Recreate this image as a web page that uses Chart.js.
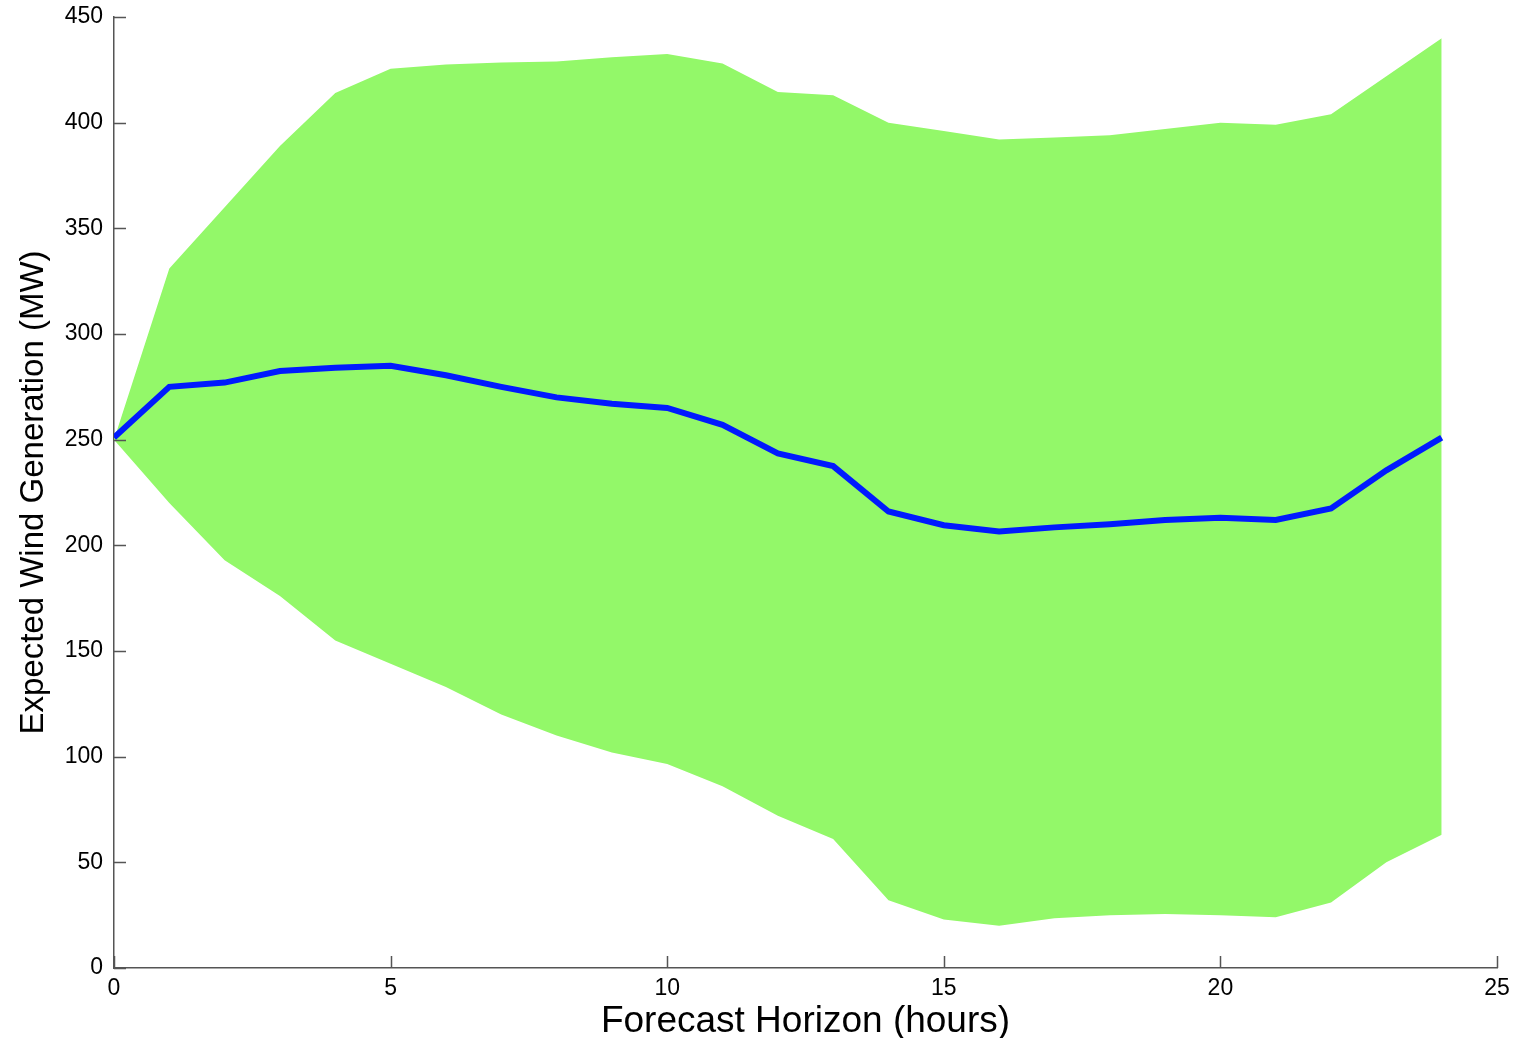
<!DOCTYPE html>
<html>
<head>
<meta charset="utf-8">
<script src="https://cdn.jsdelivr.net/npm/chart.js@4.4.1/dist/chart.umd.min.js"></script>
<style>
  html, body { margin: 0; padding: 0; background: #fff; }
  #wrap { width: 1521px; height: 1038px; }
</style>
</head>
<body>
<div id="wrap"><canvas id="windChart"></canvas></div>
<script>
const hours = [0, 1, 2, 3, 4, 5, 6, 7, 8, 9, 10, 11, 12, 13, 14, 15, 16, 17, 18, 19, 20, 21, 22, 23, 24];
const expected = [251, 275, 277, 282.5, 284, 285, 280.5, 275, 270, 267, 265, 257, 243.5, 237.5, 216, 209.5, 206.5, 208.5, 210, 212, 213, 212, 217.5, 235.5, 251];
const upperBound = [250, 331, 360, 389, 414, 425.5, 427.5, 428.5, 429, 431, 432.5, 428, 414.5, 413, 400, 396, 392, 393, 394, 397, 400, 399, 404, 422, 440];
const lowerBound = [250, 220, 193, 176, 155, 144, 133, 120, 110, 102, 96.5, 86, 72, 61, 32, 23, 20, 23.5, 25, 25.5, 25, 24, 31, 50, 63];
const yTicks = [0, 50, 100, 150, 200, 250, 300, 350, 400, 450];
const xTicks = [0, 5, 10, 15, 20, 25];

const toPoints = (vals) => hours.map((h, i) => ({ x: h, y: vals[i] }));

const fontFamily = "'Liberation Sans', Arial, Helvetica, sans-serif";

// ticks pointing into the plot, like the matlab figure
const innerTicks = {
  id: "innerTicks",
  afterDraw(chart) {
    const { ctx, chartArea, scales } = chart;
    ctx.save();
    ctx.strokeStyle = "#555";
    ctx.lineWidth = 1.5;
    ctx.beginPath();
    xTicks.forEach((v) => {
      const px = Math.round(scales.x.getPixelForValue(v)) + 0.5;
      ctx.moveTo(px, chartArea.bottom);
      ctx.lineTo(px, chartArea.bottom - 12);
    });
    yTicks.forEach((v) => {
      const py = Math.round(scales.y.getPixelForValue(v)) + 0.5;
      ctx.moveTo(chartArea.left, py);
      ctx.lineTo(chartArea.left + 12, py);
    });
    ctx.stroke();
    ctx.restore();
  },
};

const ctx = document.getElementById("windChart").getContext("2d");
new Chart(ctx, {
  type: "line",
  data: {
    datasets: [
      {
        label: "Expected",
        data: toPoints(expected),
        borderColor: "rgb(0, 26, 255)",
        borderWidth: 6,
        pointRadius: 0,
        fill: false,
        tension: 0,
      },
      {
        label: "Upper",
        data: toPoints(upperBound),
        borderWidth: 0,
        borderColor: "rgba(0,0,0,0)",
        backgroundColor: "#93f869",
        pointRadius: 0,
        fill: "+1",
        tension: 0,
      },
      {
        label: "Lower",
        data: toPoints(lowerBound),
        borderWidth: 0,
        borderColor: "rgba(0,0,0,0)",
        pointRadius: 0,
        fill: false,
        tension: 0,
      },
    ],
  },
  options: {
    responsive: true,
    maintainAspectRatio: false,
    animation: false,
    layout: { padding: { top: 17, right: 24, left: 0, bottom: 0 } },
    plugins: {
      legend: { display: false },
      tooltip: { enabled: false },
    },
    scales: {
      x: {
        type: "linear",
        min: 0,
        max: 25,
        afterBuildTicks: (scale) => {
          scale.ticks = xTicks.map((v) => ({ value: v }));
        },
        afterFit: (scale) => {
          scale.height = 70;
          scale.paddingLeft = 0;
          scale.paddingRight = 0;
        },
        grid: { display: true, drawOnChartArea: false, drawTicks: false },
        border: { display: true, color: "#555", width: 1.5 },
        ticks: {
          color: "#000",
          padding: 7,
          maxRotation: 0,
          font: { family: fontFamily, size: 23 },
        },
        title: {
          display: true,
          text: "Forecast Horizon (hours)",
          color: "#000",
          padding: { top: 0, bottom: 0 },
          font: { family: fontFamily, size: 37, lineHeight: 0.85 },
        },
      },
      y: {
        min: 0,
        max: 450,
        afterBuildTicks: (scale) => {
          scale.ticks = yTicks.map((v) => ({ value: v }));
        },
        afterFit: (scale) => {
          scale.width = 114;
          scale.paddingTop = 0;
          scale.paddingBottom = 0;
        },
        grid: { display: true, drawOnChartArea: false, drawTicks: false },
        border: { display: true, color: "#555", width: 1.5 },
        ticks: {
          color: "#000",
          padding: 11,
          font: { family: fontFamily, size: 23 },
        },
        title: {
          display: true,
          text: "Expected Wind Generation (MW)",
          color: "#000",
          padding: { top: 14, bottom: 0 },
          font: { family: fontFamily, size: 33 },
        },
      },
    },
  },
  plugins: [innerTicks],
});
</script>
</body>
</html>
